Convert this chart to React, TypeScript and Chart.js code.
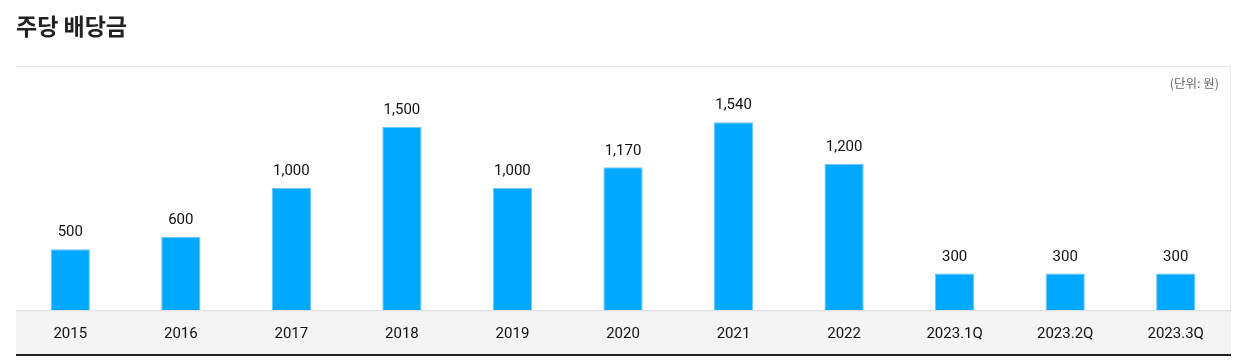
import React, { useEffect, useRef } from "react";
import { Chart, registerables } from "chart.js";

Chart.register(...registerables);

const categories = ["2015", "2016", "2017", "2018", "2019", "2020", "2021", "2022", "2023.1Q", "2023.2Q", "2023.3Q"];
const dividends = [500, 600, 1000, 1500, 1000, 1170, 1540, 1200, 300, 300, 300];
const yMax = 2000;

const frame = {
  id: "frame",
  beforeDraw(chart: any) {
    const { ctx, chartArea } = chart;
    const left = 16;
    const right = 1231;
    ctx.save();
    ctx.fillStyle = "#f4f4f4";
    ctx.fillRect(left, chartArea.bottom, right - left, 354 - chartArea.bottom);
    ctx.strokeStyle = "#e6e6e6";
    ctx.lineWidth = 1;
    ctx.beginPath();
    ctx.moveTo(left, 66.5);
    ctx.lineTo(right, 66.5);
    ctx.stroke();
    ctx.strokeStyle = "#efefef";
    ctx.beginPath();
    ctx.moveTo(1230.5, 66);
    ctx.lineTo(1230.5, chartArea.bottom);
    ctx.stroke();
    ctx.strokeStyle = "#dcdcdc";
    ctx.beginPath();
    ctx.moveTo(left, chartArea.bottom + 0.5);
    ctx.lineTo(right, chartArea.bottom + 0.5);
    ctx.stroke();
    ctx.strokeStyle = "#222222";
    ctx.lineWidth = 2;
    ctx.beginPath();
    ctx.moveTo(left, 355);
    ctx.lineTo(right, 355);
    ctx.stroke();
    ctx.restore();
  },
  afterDatasetsDraw(chart: any) {
    const { ctx } = chart;
    const meta = chart.getDatasetMeta(0);
    ctx.save();
    ctx.font = "15px Roboto";
    ctx.fillStyle = "#111111";
    ctx.textAlign = "center";
    ctx.textBaseline = "bottom";
    meta.data.forEach((bar: any, i: number) => {
      ctx.fillText(dividends[i].toLocaleString("en-US"), bar.x, bar.y - 9);
    });
    ctx.restore();
  },
};

export default function App() {
  const ref = useRef<HTMLCanvasElement>(null);
  useEffect(() => {
    if (!ref.current) return;
    const chart = new Chart(ref.current, {
      type: "bar",
      data: {
        labels: categories,
        datasets: [
          {
            data: dividends,
            backgroundColor: "#00a8ff",
            borderColor: "#6cc6f5",
            borderWidth: 1,
            categoryPercentage: 1,
            barPercentage: 0.355,
          },
        ],
      },
      options: {
        responsive: false,
        animation: false,
        layout: { padding: { left: 15, right: 3, top: 66, bottom: 2.6 } },
        plugins: { legend: { display: false }, tooltip: { enabled: false } },
        scales: {
          x: {
            grid: { display: false, drawTicks: false },
            border: { display: false },
            ticks: { font: { size: 15, family: "Roboto" }, color: "#111111", padding: 14.6, maxRotation: 0 },
          },
          y: { display: false, min: 0, max: yMax },
        },
      },
      plugins: [frame],
    });
    return () => chart.destroy();
  }, []);
  return (
    <div style={{ position: "fixed", left: 0, top: 0, width: 1234, height: 360, background: "#fff" }}>
      <canvas ref={ref} width={1234} height={360} style={{ position: "absolute", left: 0, top: 0 }} />
      <div
        style={{
          position: "absolute",
          left: 16,
          top: 9,
          fontFamily: "'Noto Sans CJK KR', sans-serif",
          fontWeight: 700,
          fontSize: 23,
          lineHeight: "32px",
          color: "#222",
          whiteSpace: "nowrap",
        }}
      >
        주당 배당금
      </div>
      <div
        style={{
          position: "absolute",
          right: 15,
          top: 74,
          fontFamily: "'Noto Sans CJK KR', sans-serif",
          fontSize: 12.5,
          lineHeight: "18px",
          color: "#666",
          whiteSpace: "nowrap",
        }}
      >
        (단위: 원)
      </div>
    </div>
  );
}
